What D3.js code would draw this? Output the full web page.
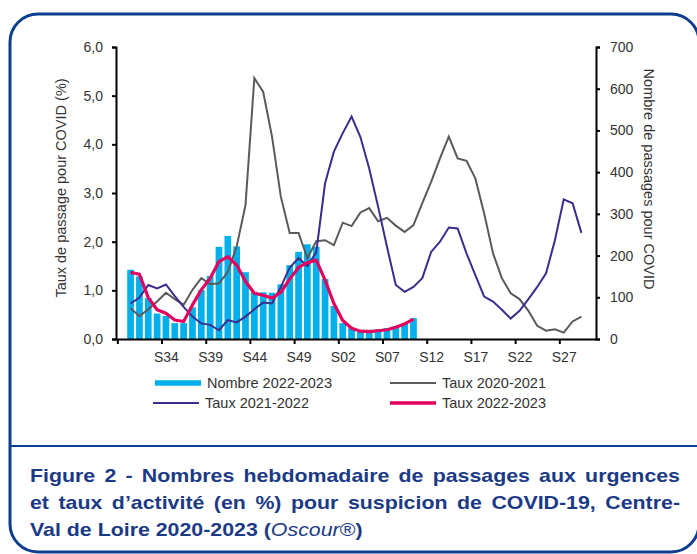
<!DOCTYPE html>
<html>
<head>
<meta charset="utf-8">
<script src="https://cdn.jsdelivr.net/npm/d3@7"></script>
<style>
	body { margin: 0; background: #fff; }
	svg { display: block; font-family: "Liberation Sans", Arial, sans-serif; }
</style>
</head>
<body>
<div id="chart"></div>
<script>
// weeks S30 -> S29
var weeks = ["S30","S31","S32","S33","S34","S35","S36","S37","S38","S39","S40","S41","S42","S43","S44","S45","S46","S47","S48","S49","S50","S51","S52",
	"S01","S02","S03","S04","S05","S06","S07","S08","S09","S10","S11","S12","S13","S14","S15","S16","S17","S18","S19","S20","S21","S22","S23","S24","S25","S26","S27","S28","S29"];
var weekLabels = ["S34","S39","S44","S49","S02","S07","S12","S17","S22","S27"];

// Nombre de passages 2022-2023 (right axis)
var nombre2223 = [166,150,98,61,55,38,38,76,117,151,221,247,222,160,113,112,111,131,177,209,227,221,144,79,38,26,20,22,23,26,30,38,50];
// Taux (%) (left axis)
var taux2021 = [0.63,0.47,0.61,0.77,0.95,0.82,0.70,1.01,1.25,1.13,1.14,1.38,1.90,2.75,5.36,5.08,4.16,2.92,2.18,2.18,1.66,2.01,2.03,1.93,2.39,2.32,
	2.60,2.69,2.42,2.49,2.33,2.20,2.34,2.79,3.23,3.71,4.16,3.71,3.66,3.30,2.58,1.76,1.25,0.94,0.82,0.58,0.27,0.17,0.20,0.13,0.36,0.46];
var taux2122 = [0.73,0.85,1.11,1.04,1.12,0.88,0.66,0.46,0.32,0.29,0.18,0.39,0.34,0.46,0.61,0.75,0.73,1.07,1.47,1.66,1.50,1.78,3.20,3.85,4.23,4.57,
	4.15,3.50,2.72,1.90,1.11,0.97,1.07,1.25,1.79,2.00,2.29,2.27,1.76,1.31,0.87,0.77,0.60,0.42,0.58,0.82,1.07,1.35,2.03,2.87,2.79,2.18];
var taux2223 = [1.37,1.33,0.85,0.60,0.53,0.39,0.36,0.70,1.01,1.25,1.59,1.69,1.52,1.18,0.94,0.90,0.84,0.96,1.23,1.47,1.57,1.62,1.21,0.73,0.38,0.22,0.16,0.15,0.17,0.19,0.24,0.31,0.41];

var legendNames = ["Nombre 2022-2023","Taux 2020-2021","Taux 2021-2022","Taux 2022-2023"];
var leftTicks = [0,1,2,3,4,5,6];
var rightTicks = [0,100,200,300,400,500,600,700];

var captionLines = [
	"Figure 2 - Nombres hebdomadaire de passages aux urgences",
	"et taux d\u2019activit\u00e9 (en %) pour suspicion de COVID-19, Centre-"
];

function createChart(){
	var W = 697, H = 554;
	var navy = "#0c3d8f";
	var capColor = "#1b3a86";
	var textColor = "#333";

	var svg = d3.select("#chart").append("svg")
		.attr("width", W)
		.attr("height", H);

	// frame
	svg.append("rect")
		.attr("x", 10).attr("y", 14)
		.attr("width", 689).attr("height", 538)
		.attr("rx", 28).attr("ry", 28)
		.attr("fill", "none")
		.attr("stroke", navy)
		.attr("stroke-width", 3);
	svg.append("line")
		.attr("x1", 11).attr("x2", 699)
		.attr("y1", 446).attr("y2", 446)
		.attr("stroke", navy)
		.attr("stroke-width", 2);

	// scales (x uses the week index)
	var plotLeft = 116, plotRight = 596, plotTop = 47, plotBottom = 339;
	var x = d3.scaleLinear().domain([-1.65, weeks.length + 0.65]).range([plotLeft, plotRight]);
	var yL = d3.scaleLinear().domain([0, 6]).range([plotBottom, plotTop]);
	var yR = d3.scaleLinear().domain([0, 700]).range([plotBottom, plotTop]);
	var step = x(1) - x(0);
	var barW = step * 0.76;

	var g = svg.append("g");

	// bars
	g.selectAll("rect.bar")
		.data(nombre2223)
		.enter().append("rect")
		.attr("class", "bar")
		.attr("x", function(d, i){ return x(i) - barW / 2; })
		.attr("width", barW)
		.attr("y", function(d){ return yR(d); })
		.attr("height", function(d){ return plotBottom - yR(d); })
		.attr("fill", "#00b0ea");

	var line = d3.line()
		.x(function(d, i){ return x(i); })
		.y(function(d){ return yL(d); });

	g.append("path").datum(taux2021)
		.attr("d", line).attr("fill", "none")
		.attr("stroke", "#5a5a5a").attr("stroke-width", 2);
	g.append("path").datum(taux2122)
		.attr("d", line).attr("fill", "none")
		.attr("stroke", "#3b2d8e").attr("stroke-width", 2);
	g.append("path").datum(taux2223)
		.attr("d", line).attr("fill", "none")
		.attr("stroke", "#e6005e").attr("stroke-width", 3.2)
		.attr("stroke-linejoin", "round");

	// axes
	var fmt = function(d){ return d3.format(".1f")(d).replace(".", ","); };
	var axisL = d3.axisLeft(yL).tickValues(leftTicks).tickFormat(fmt).tickSize(4).tickPadding(9);
	var axisR = d3.axisRight(yR).tickValues(rightTicks).tickFormat(d3.format("d")).tickSize(4).tickPadding(10);

	var tickPos = d3.range(11).map(function(k){ return -1.5 + 5 * k; });
	var axisXTicks = d3.axisBottom(x).tickValues(tickPos).tickFormat("").tickSize(5).tickSizeOuter(0);
	var axisXLabels = d3.axisBottom(x)
		.tickValues(weekLabels.map(function(w){ return weeks.indexOf(w); }))
		.tickFormat(function(i){ return weeks[i]; })
		.tickSize(0).tickPadding(10);

	var gx = svg.append("g").attr("transform", "translate(0," + plotBottom + ")").call(axisXTicks);
	var gxl = svg.append("g").attr("transform", "translate(0," + plotBottom + ")").call(axisXLabels);
	gxl.select(".domain").remove();
	var gl = svg.append("g").attr("transform", "translate(" + plotLeft + ",0)").call(axisL);
	var gr = svg.append("g").attr("transform", "translate(" + plotRight + ",0)").call(axisR);

	[gx, gl, gr].forEach(function(a){
		a.select(".domain").attr("stroke", "#000").attr("stroke-width", 2);
		a.selectAll(".tick line").attr("stroke", "#000").attr("stroke-width", 2);
	});
	[gxl, gl, gr].forEach(function(a){
		a.selectAll(".tick text")
			.attr("font-family", "Liberation Sans, Arial, sans-serif")
			.attr("font-size", "14px")
			.attr("fill", textColor);
	});
	gxl.selectAll(".tick text").attr("dy", "0.9em");

	// axis titles
	svg.append("text")
		.attr("transform", "translate(66,188) rotate(-90)")
		.attr("text-anchor", "middle")
		.attr("font-size", "14.5px")
		.attr("fill", textColor)
		.text("Taux de passage pour COVID (%)");
	svg.append("text")
		.attr("transform", "translate(644,179) rotate(90)")
		.attr("text-anchor", "middle")
		.attr("font-size", "14.5px")
		.attr("fill", textColor)
		.text("Nombre de passages pour COVID");

	// legend
	var legend = [
		{name: legendNames[0], x: 155, y: 383, color: "#00b0ea", w: 5.5},
		{name: legendNames[1], x: 390, y: 383, color: "#5a5a5a", w: 2},
		{name: legendNames[2], x: 153, y: 403, color: "#3b2d8e", w: 2},
		{name: legendNames[3], x: 390, y: 403, color: "#e6005e", w: 3.5}
	];
	var lg = svg.selectAll("g.legend").data(legend).enter().append("g").attr("class", "legend");
	lg.append("line")
		.attr("x1", function(d){ return d.x; })
		.attr("x2", function(d){ return d.x + 46; })
		.attr("y1", function(d){ return d.y; })
		.attr("y2", function(d){ return d.y; })
		.attr("stroke", function(d){ return d.color; })
		.attr("stroke-width", function(d){ return d.w; });
	lg.append("text")
		.attr("x", function(d){ return d.x + 52; })
		.attr("y", function(d){ return d.y + 5; })
		.attr("font-size", "14.5px")
		.attr("fill", textColor)
		.text(function(d){ return d.name; });

	// caption (justified lines, glyphs a bit wider than plain Arial)
	var capX0 = 30, capX1 = 680, sx = 1.22;
	var capY = [482, 509, 536];
	var cap = svg.append("g").attr("transform", "translate(" + capX0 + ",0) scale(" + sx + ",1)");
	captionLines.forEach(function(t, i){
		var tx = cap.append("text")
			.attr("x", 0).attr("y", capY[i])
			.attr("font-size", "17.5px")
			.attr("font-weight", "bold")
			.attr("fill", capColor)
			.text(t);
		var natural = tx.node().getComputedTextLength();
		var spaces = t.split(" ").length - 1;
		tx.attr("word-spacing", (((capX1 - capX0) / sx - natural) / spaces) + "px");
	});
	var last = cap.append("text")
		.attr("x", 0).attr("y", capY[2])
		.attr("font-size", "17.5px")
		.attr("font-weight", "bold")
		.attr("fill", capColor);
	last.append("tspan").text("Val de Loire 2020-2023 (");
	last.append("tspan").attr("font-style", "italic").attr("font-weight", "normal").text("Oscour");
	last.append("tspan").attr("font-weight", "normal").text("\u00ae");
	last.append("tspan").text(")");
}
createChart();
</script>
</body>
</html>
